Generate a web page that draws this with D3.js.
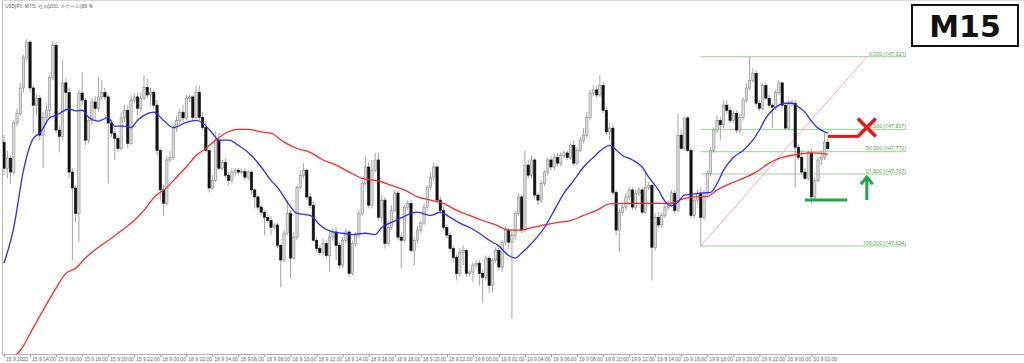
<!DOCTYPE html>
<html>
<head>
<meta charset="utf-8">
<script src="https://cdn.jsdelivr.net/npm/d3@7"></script>
<style>
  body { margin: 0; background: #fff; }
  svg { display: block; font-family: "Noto Sans", "DejaVu Sans", sans-serif; }
</style>
</head>
<body>
<svg id="chart" width="1024" height="363"></svg>
<script>
// USDJPY M15 candles: [open, high, low, close]
const candles = [
[147.787,147.798,147.735,147.746],[147.746,147.774,147.730,147.762],[147.762,147.766,147.722,147.740],[147.740,147.821,147.735,147.817],
[147.817,147.840,147.812,147.832],[147.832,147.880,147.829,147.872],[147.872,147.924,147.865,147.920],[147.920,147.949,147.916,147.944],
[147.944,147.947,147.865,147.872],[147.872,147.876,147.801,147.845],[147.845,147.861,147.829,147.856],[147.856,147.861,147.790,147.798],
[147.798,147.834,147.746,147.826],[147.826,147.848,147.814,147.837],[147.837,147.892,147.825,147.889],[147.889,147.946,147.884,147.939],
[147.939,147.944,147.801,147.806],[147.806,147.814,147.771,147.796],[147.796,147.916,147.790,147.880],[147.880,147.887,147.837,147.865],
[147.865,147.872,147.730,147.740],[147.740,147.746,147.602,147.715],[147.715,147.719,147.661,147.675],[147.675,147.869,147.630,147.864],
[147.864,147.897,147.845,147.853],[147.853,147.856,147.782,147.790],[147.790,147.829,147.785,147.821],[147.821,147.856,147.814,147.850],
[147.850,147.859,147.821,147.840],[147.840,147.889,147.834,147.858],[147.858,147.884,147.853,147.865],[147.865,147.872,147.853,147.858],
[147.858,147.861,147.722,147.817],[147.817,147.821,147.795,147.801],[147.801,147.809,147.759,147.793],[147.793,147.798,147.771,147.777],
[147.777,147.834,147.774,147.825],[147.825,147.845,147.818,147.837],[147.837,147.845,147.777,147.785],[147.785,147.861,147.782,147.853],
[147.853,147.865,147.847,147.858],[147.858,147.865,147.829,147.840],[147.840,147.865,147.834,147.856],[147.856,147.892,147.853,147.873],
[147.873,147.887,147.856,147.861],[147.861,147.872,147.845,147.865],[147.865,147.869,147.840,147.845],[147.845,147.853,147.766,147.774],
[147.774,147.777,147.696,147.712],[147.712,147.719,147.672,147.691],[147.691,147.766,147.688,147.759],[147.759,147.774,147.755,147.763],
[147.763,147.814,147.759,147.809],[147.809,147.829,147.803,147.821],[147.821,147.840,147.814,147.834],[147.834,147.845,147.818,147.825],
[147.825,147.861,147.821,147.856],[147.856,147.862,147.850,147.858],[147.858,147.861,147.821,147.826],[147.826,147.876,147.823,147.865],
[147.865,147.876,147.821,147.826],[147.826,147.834,147.806,147.810],[147.810,147.821,147.771,147.774],[147.774,147.777,147.708,147.715],
[147.715,147.735,147.712,147.727],[147.727,147.803,147.724,147.790],[147.790,147.801,147.743,147.746],[147.746,147.759,147.743,147.755],
[147.755,147.762,147.730,147.735],[147.735,147.740,147.719,147.727],[147.727,147.746,147.722,147.740],[147.740,147.746,147.733,147.743],
[147.743,147.746,147.735,147.740],[147.740,147.745,147.737,147.741],[147.741,147.746,147.727,147.732],[147.732,147.743,147.727,147.740],
[147.740,147.743,147.704,147.712],[147.712,147.715,147.683,147.701],[147.701,147.704,147.680,147.685],[147.685,147.688,147.672,147.677],
[147.677,147.680,147.641,147.669],[147.669,147.674,147.660,147.664],[147.664,147.671,147.641,147.653],[147.653,147.661,147.649,147.657],
[147.657,147.661,147.620,147.625],[147.625,147.628,147.559,147.602],[147.602,147.649,147.598,147.644],[147.644,147.696,147.641,147.675],
[147.675,147.680,147.573,147.605],[147.605,147.646,147.602,147.638],[147.638,147.719,147.633,147.716],[147.716,147.743,147.712,147.735],
[147.735,147.754,147.730,147.743],[147.743,147.746,147.696,147.701],[147.701,147.707,147.683,147.688],[147.688,147.693,147.630,147.633],
[147.633,147.638,147.614,147.620],[147.620,147.625,147.609,147.614],[147.614,147.636,147.609,147.628],[147.628,147.633,147.605,147.609],
[147.609,147.646,147.583,147.638],[147.638,147.652,147.633,147.646],[147.646,147.653,147.602,147.625],[147.625,147.630,147.589,147.594],
[147.594,147.638,147.589,147.633],[147.633,147.652,147.628,147.646],[147.646,147.649,147.575,147.581],[147.581,147.633,147.578,147.628],
[147.628,147.646,147.622,147.641],[147.641,147.680,147.636,147.675],[147.675,147.727,147.672,147.722],[147.722,147.766,147.719,147.748],
[147.748,147.755,147.683,147.688],[147.688,147.759,147.683,147.743],[147.743,147.770,147.740,147.759],[147.759,147.770,147.664,147.669],
[147.669,147.704,147.661,147.696],[147.696,147.701,147.620,147.628],[147.628,147.664,147.625,147.653],[147.653,147.688,147.649,147.680],
[147.680,147.712,147.677,147.707],[147.707,147.712,147.633,147.638],[147.638,147.644,147.589,147.633],[147.633,147.688,147.630,147.685],
[147.685,147.696,147.680,147.691],[147.691,147.696,147.614,147.617],[147.617,147.639,147.594,147.633],[147.633,147.655,147.628,147.649],
[147.649,147.664,147.644,147.660],[147.660,147.691,147.657,147.685],[147.685,147.719,147.680,147.716],[147.716,147.740,147.712,147.732],
[147.732,147.755,147.727,147.748],[147.748,147.752,147.691,147.696],[147.696,147.702,147.675,147.680],[147.680,147.685,147.649,147.653],
[147.653,147.658,147.636,147.641],[147.641,147.646,147.614,147.620],[147.620,147.625,147.598,147.606],[147.606,147.611,147.570,147.581],
[147.581,147.620,147.576,147.614],[147.614,147.625,147.594,147.617],[147.617,147.620,147.576,147.581],[147.581,147.586,147.576,147.583],
[147.583,147.598,147.567,147.594],[147.594,147.602,147.589,147.597],[147.597,147.602,147.562,147.581],[147.581,147.586,147.536,147.575],
[147.575,147.609,147.570,147.605],[147.605,147.609,147.550,147.562],[147.562,147.605,147.551,147.602],[147.602,147.622,147.597,147.617],
[147.617,147.625,147.586,147.591],[147.591,147.633,147.583,147.630],[147.630,147.655,147.625,147.649],[147.649,147.652,147.620,147.630],
[147.630,147.646,147.510,147.641],[147.641,147.680,147.633,147.675],[147.675,147.707,147.672,147.701],[147.701,147.704,147.644,147.649],
[147.649,147.774,147.646,147.751],[147.751,147.759,147.730,147.735],[147.735,147.766,147.730,147.759],[147.759,147.762,147.699,147.704],
[147.704,147.708,147.688,147.696],[147.696,147.727,147.691,147.722],[147.722,147.743,147.718,147.740],[147.740,147.763,147.735,147.759],
[147.759,147.765,147.743,147.748],[147.748,147.768,147.743,147.763],[147.763,147.770,147.749,147.754],[147.754,147.771,147.749,147.766],
[147.766,147.774,147.762,147.770],[147.770,147.774,147.759,147.763],[147.763,147.785,147.759,147.782],[147.782,147.790,147.749,147.754],
[147.754,147.779,147.751,147.774],[147.774,147.795,147.771,147.790],[147.790,147.809,147.785,147.798],[147.798,147.834,147.793,147.826],
[147.826,147.869,147.821,147.864],[147.864,147.876,147.859,147.869],[147.869,147.875,147.856,147.861],[147.861,147.892,147.858,147.876],
[147.876,147.881,147.832,147.837],[147.837,147.842,147.798,147.803],[147.803,147.818,147.790,147.809],[147.809,147.814,147.704,147.708],
[147.708,147.712,147.641,147.649],[147.649,147.683,147.614,147.677],[147.677,147.691,147.672,147.685],[147.685,147.707,147.680,147.701],
[147.701,147.716,147.696,147.712],[147.712,147.716,147.680,147.685],[147.685,147.712,147.680,147.707],[147.707,147.716,147.702,147.712],
[147.712,147.716,147.674,147.677],[147.677,147.740,147.674,147.716],[147.716,147.724,147.712,147.719],[147.719,147.722,147.570,147.622],
[147.622,147.675,147.617,147.669],[147.669,147.677,147.652,147.657],[147.657,147.677,147.652,147.672],[147.672,147.690,147.668,147.685],
[147.685,147.696,147.680,147.691],[147.691,147.712,147.686,147.707],[147.707,147.712,147.675,147.680],[147.680,147.832,147.677,147.798],
[147.798,147.806,147.774,147.777],[147.777,147.826,147.774,147.825],[147.825,147.828,147.771,147.774],[147.774,147.777,147.668,147.672],
[147.672,147.701,147.668,147.696],[147.696,147.712,147.691,147.707],[147.707,147.716,147.624,147.669],[147.669,147.712,147.664,147.707],
[147.707,147.743,147.702,147.738],[147.738,147.779,147.733,147.774],[147.774,147.810,147.770,147.806],[147.806,147.829,147.801,147.821],
[147.821,147.826,147.790,147.814],[147.814,147.853,147.809,147.845],[147.845,147.853,147.832,147.837],[147.837,147.842,147.817,147.821],
[147.821,147.837,147.817,147.832],[147.832,147.837,147.801,147.806],[147.806,147.832,147.801,147.826],[147.826,147.858,147.821,147.853],
[147.853,147.880,147.848,147.872],[147.872,147.921,147.869,147.884],[147.884,147.903,147.880,147.895],[147.895,147.900,147.843,147.848],
[147.848,147.853,147.836,147.840],[147.840,147.880,147.837,147.876],[147.876,147.880,147.853,147.856],[147.856,147.861,147.840,147.845],
[147.845,147.848,147.809,147.842],[147.842,147.869,147.837,147.865],[147.865,147.884,147.861,147.880],[147.880,147.881,147.840,147.845],
[147.845,147.848,147.806,147.809],[147.809,147.853,147.806,147.848],[147.848,147.853,147.843,147.850],[147.848,147.853,147.716,147.779],
[147.779,147.784,147.759,147.763],[147.763,147.774,147.735,147.740],[147.740,147.746,147.727,147.730],[147.730,147.774,147.727,147.770],
[147.770,147.777,147.691,147.701],[147.701,147.732,147.696,147.727],[147.727,147.763,147.724,147.759],[147.759,147.774,147.751,147.763],
[147.763,147.801,147.759,147.787],[147.787,147.793,147.774,147.777]
];

// moving averages: [bar, price]
const maFast = [
[0,147.597],[3,147.653],[6,147.743],[9,147.793],[11,147.801],[14,147.825],[16,147.829],[20,147.839],[22,147.836],[24,147.837],
[26,147.826],[29,147.820],[32,147.826],[34,147.812],[37,147.812],[39,147.810],[41,147.821],[43,147.829],[46,147.834],[49,147.821],
[52,147.810],[56,147.818],[59,147.821],[61,147.817],[64,147.801],[66,147.790],[69,147.790],[72,147.782],[76,147.766],[79,147.748],
[82,147.727],[84,147.716],[87,147.693],[90,147.675],[94,147.672],[97,147.657],[101,147.646],[104,147.644],[107,147.642],[111,147.644],
[114,147.642],[116,147.653],[119,147.661],[122,147.668],[125,147.675],[127,147.677],[131,147.672],[134,147.677],[137,147.669],[140,147.660],
[143,147.653],[146,147.644],[149,147.633],[152,147.624],[155,147.609],[157,147.605],[159,147.613],[162,147.628],[166,147.653],[169,147.680],
[172,147.707],[175,147.727],[178,147.748],[181,147.763],[184,147.777],[186,147.782],[187,147.779],[190,147.766],[193,147.759],[196,147.748],
[198,147.732],[201,147.712],[203,147.694],[205,147.687],[207,147.693],[209,147.704],[211,147.705],[214,147.707],[217,147.708],[219,147.722],
[221,147.743],[224,147.763],[227,147.774],[230,147.790],[232,147.806],[234,147.825],[236,147.837],[238,147.845],[240,147.848],[242,147.848],
[244,147.842],[246,147.834],[248,147.820],[250,147.809],[252,147.803],[253,147.801]
];
const maSlow = [
[3,147.450],[5,147.460],[9,147.496],[12,147.523],[16,147.558],[19,147.581],[22,147.589],[25,147.605],[29,147.622],[33,147.636],
[37,147.652],[40,147.664],[43,147.680],[46,147.700],[50,147.716],[53,147.732],[56,147.748],[59,147.766],[62,147.777],[65,147.790],
[68,147.801],[72,147.807],[75,147.807],[79,147.803],[82,147.801],[86,147.787],[90,147.777],[94,147.771],[98,147.759],[102,147.751],
[106,147.740],[110,147.730],[115,147.726],[119,147.719],[123,147.712],[127,147.701],[131,147.696],[135,147.691],[139,147.680],[143,147.672],
[147,147.664],[151,147.657],[155,147.649],[159,147.649],[162,147.653],[166,147.657],[170,147.661],[174,147.664],[178,147.672],[182,147.680],
[186,147.690],[190,147.691],[195,147.691],[201,147.691],[205,147.691],[208,147.697],[212,147.701],[216,147.702],[219,147.712],[223,147.722],
[227,147.730],[231,147.740],[235,147.754],[239,147.763],[244,147.768],[248,147.770],[253,147.768]
];

// time labels, one every 8 bars (2 hours)
const timeLabels = [
"15 9 2023","15 9 14:00","15 9 16:00","15 9 18:00","15 9 20:00","15 9 22:00",
"18 9 00:00","18 9 02:00","18 9 04:00","18 9 06:00","18 9 08:00","18 9 10:00",
"18 9 12:00","18 9 14:00","18 9 16:00","18 9 18:00","18 9 20:00","18 9 22:00",
"19 9 00:00","19 9 02:00","19 9 04:00","19 9 06:00","19 9 08:00","19 9 10:00",
"19 9 12:00","19 9 14:00","19 9 16:00","19 9 18:00","19 9 20:00","19 9 22:00",
"20 9 00:00","20 9 02:00"
];

// fibonacci retracement
const fibLevels = [0, 38.2, 50, 61.8, 100];
const fibPrices = [147.921, 147.807, 147.772, 147.737, 147.624];
const fibBars = [214, 265, 277];   // start, end of swing, label end

// hand drawn marks
const resistMark = [253, 262.5, 147.796];
const supportMark = [246, 259, 147.696];
const crossMark = [265, 147.810];
const arrowMark = [265, 147.696, 147.732];

var svg = d3.select("#chart");

var x = d3.scaleLinear().domain([0, 253]).range([4, 4 + 3.256 * 253]);
var y = d3.scaleLinear().domain([147.4545, 147.9975]).range([354, 8]);

// frame
svg.append("line").attr("x1", 2.5).attr("x2", 2.5).attr("y1", 1).attr("y2", 354)
  .attr("stroke", "#b5b5b5");
svg.append("line").attr("x1", 2).attr("x2", 1024).attr("y1", 354.5).attr("y2", 354.5)
  .attr("stroke", "#b5b5b5");
svg.append("line").attr("x1", 2).attr("x2", 1024).attr("y1", 0.5).attr("y2", 0.5)
  .attr("stroke", "#d8d8d8");

svg.append("text").attr("x", 5).attr("y", 7.5)
  .attr("font-size", "5px").attr("fill", "#555")
  .text("USDJPY, M15, セル(200, スケール(86 %");

// time axis
var xAxis = d3.axisBottom(x)
  .tickValues(d3.range(0, timeLabels.length * 8, 8))
  .tickSize(2.5)
  .tickFormat(function(d, i) { return timeLabels[i]; });
var gx = svg.append("g").attr("transform", "translate(0,354.5)").call(xAxis);
gx.select(".domain").remove();
gx.selectAll(".tick line").attr("stroke", "#999");
gx.selectAll(".tick text")
  .attr("text-anchor", "start")
  .attr("x", 1.5)
  .attr("y", 3)
  .attr("font-size", "5px")
  .attr("fill", "#666");

svg.append("clipPath").attr("id", "plot")
  .append("rect").attr("x", 3).attr("y", 1).attr("width", 1021).attr("height", 353);

var plot = svg.append("g").attr("clip-path", "url(#plot)");

// fib lines
var fib = plot.append("g");
fibPrices.forEach(function(p, i) {
  fib.append("line")
    .attr("x1", x(fibBars[0])).attr("x2", x(fibBars[2]))
    .attr("y1", y(p)).attr("y2", y(p))
    .attr("stroke", "#93cc8c").attr("stroke-width", 0.9);
  fib.append("text")
    .attr("x", x(fibBars[2])).attr("y", y(p) - 1.2)
    .attr("text-anchor", "end")
    .attr("font-size", "5.2px").attr("fill", "#4f9f48")
    .text(fibLevels[i].toFixed(3) + " (" + p.toFixed(3) + ")");
});
fib.append("line")
  .attr("x1", x(fibBars[0])).attr("y1", y(fibPrices[4]))
  .attr("x2", x(fibBars[1])).attr("y2", y(fibPrices[0]))
  .attr("stroke", "#f6a9a9").attr("stroke-width", 0.9);

// candles
var bodyW = 2.3;
var bars = plot.append("g").selectAll("g").data(candles).enter().append("g");

bars.append("line")
  .attr("x1", function(d, i) { return x(i); })
  .attr("x2", function(d, i) { return x(i); })
  .attr("y1", function(d) { return y(d[1]); })
  .attr("y2", function(d) { return y(d[2]); })
  .attr("stroke", "#8e8e8e").attr("stroke-width", 0.8);

bars.append("rect")
  .attr("x", function(d, i) { return x(i) - bodyW / 2; })
  .attr("y", function(d) { return y(Math.max(d[0], d[3])); })
  .attr("width", bodyW)
  .attr("height", function(d) { return Math.max(0.8, Math.abs(y(d[0]) - y(d[3]))); })
  .attr("fill", function(d) { return d[3] >= d[0] ? "#dcdcdc" : "#111"; })
  .attr("stroke", function(d) { return d[3] >= d[0] ? "#8a8a8a" : "#111"; })
  .attr("stroke-width", 0.6);

// moving averages
var line = d3.line()
  .x(function(d) { return x(d[0]); })
  .y(function(d) { return y(d[1]); })
  .curve(d3.curveMonotoneX);

plot.append("path").datum(maSlow).attr("d", line)
  .attr("fill", "none").attr("stroke", "#ff2a2a").attr("stroke-width", 1.3);
plot.append("path").datum(maFast).attr("d", line)
  .attr("fill", "none").attr("stroke", "#2b2bff").attr("stroke-width", 1.3);

// marks
var red = "#e8161c", green = "#20a650";
plot.append("line")
  .attr("x1", x(resistMark[0])).attr("x2", x(resistMark[1]))
  .attr("y1", y(resistMark[2])).attr("y2", y(resistMark[2]))
  .attr("stroke", red).attr("stroke-width", 3);
plot.append("line")
  .attr("x1", x(supportMark[0])).attr("x2", x(supportMark[1]))
  .attr("y1", y(supportMark[2])).attr("y2", y(supportMark[2]))
  .attr("stroke", green).attr("stroke-width", 3);

var cx = x(crossMark[0]), cy = y(crossMark[1]);
plot.append("path")
  .attr("d", "M" + (cx - 9) + "," + (cy - 9) + "L" + (cx + 9) + "," + (cy + 9) +
             "M" + (cx + 9) + "," + (cy - 9) + "L" + (cx - 9) + "," + (cy + 9))
  .attr("stroke", red).attr("stroke-width", 3.5).attr("fill", "none");

var ax = x(arrowMark[0]), ay0 = y(arrowMark[1]), ay1 = y(arrowMark[2]);
plot.append("path")
  .attr("d", "M" + ax + "," + ay0 + "L" + ax + "," + ay1 +
             "M" + (ax - 6) + "," + (ay1 + 7) + "L" + ax + "," + ay1 + "L" + (ax + 6) + "," + (ay1 + 7))
  .attr("stroke", green).attr("stroke-width", 3).attr("fill", "none");

// timeframe badge
svg.append("rect").attr("x", 912).attr("y", 5).attr("width", 106).attr("height", 41)
  .attr("fill", "#fff").attr("stroke", "#111").attr("stroke-width", 2);
svg.append("text").attr("x", 965).attr("y", 37)
  .attr("text-anchor", "middle")
  .attr("font-family", "'DejaVu Sans', sans-serif")
  .attr("font-size", "30px").attr("font-weight", "bold")
  .attr("fill", "#111")
  .text("M15");
</script>
</body>
</html>
